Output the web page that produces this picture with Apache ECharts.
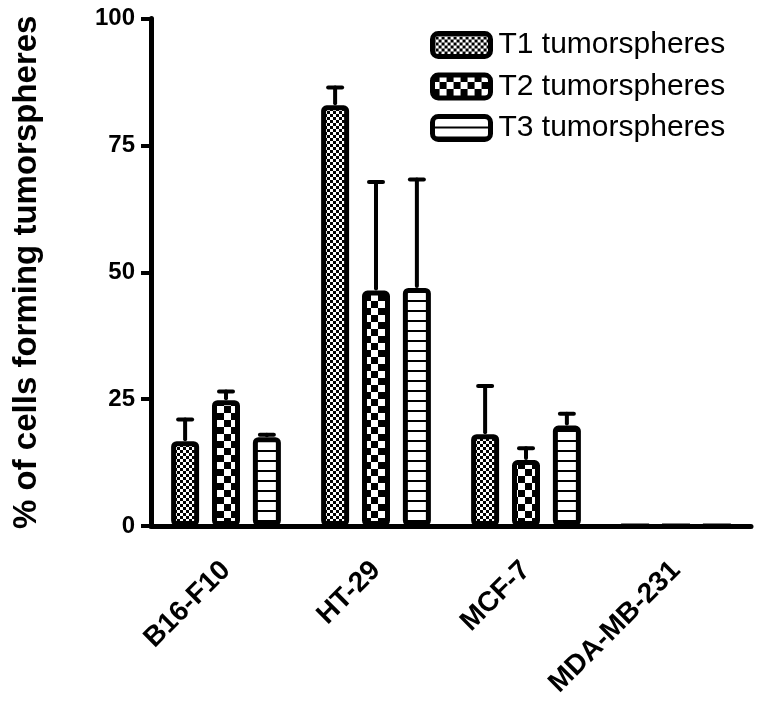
<!DOCTYPE html>
<html>
<head>
<meta charset="utf-8">
<script src="https://cdn.jsdelivr.net/npm/echarts@6/dist/echarts.min.js"></script>
<style>html,body{margin:0;padding:0;background:#fff}#c{width:760px;height:706px}</style>
</head>
<body>
<div id="c"></div>
<script>
// ---- data ----
var categories = ['B16-F10', 'HT-29', 'MCF-7', 'MDA-MB-231'];
var seriesNames = ['T1 tumorspheres', 'T2 tumorspheres', 'T3 tumorspheres'];
var t1Values = [16.7, 82.9, 18.1, 0];
var t2Values = [24.8, 46.4, 13.0, 0];
var t3Values = [17.5, 46.9, 19.8, 0];
var t1ErrTop = [21.0, 86.4, 27.6, 0];
var t2ErrTop = [26.5, 67.8, 15.3, 0];
var t3ErrTop = [18.0, 68.3, 22.1, 0];
var yTicks = [0, 25, 50, 75, 100];

var FONT = 'Liberation Sans';
var BAR_W = 28, BAR_GAP = 0.46;

function makePattern(kind) {
  var c = document.createElement('canvas');
  var ctx;
  if (kind === 'fine') {
    c.width = 6; c.height = 6; ctx = c.getContext('2d');
    ctx.fillStyle = '#fff'; ctx.fillRect(0, 0, 6, 6);
    ctx.fillStyle = '#000'; ctx.fillRect(0, 0, 3, 3); ctx.fillRect(3, 3, 3, 3);
  } else if (kind === 'coarse') {
    c.width = 14; c.height = 14; ctx = c.getContext('2d');
    ctx.fillStyle = '#fff'; ctx.fillRect(0, 0, 14, 14);
    ctx.fillStyle = '#000'; ctx.fillRect(0, 0, 7, 7); ctx.fillRect(7, 7, 7, 7);
  } else {
    c.width = 10; c.height = 10; ctx = c.getContext('2d');
    ctx.fillStyle = '#fff'; ctx.fillRect(0, 0, 10, 10);
    ctx.fillStyle = '#000'; ctx.fillRect(0, 0, 10, 2);
  }
  return { image: c, repeat: 'repeat' };
}
var patterns = [makePattern('fine'), makePattern('coarse'), makePattern('lines')];
var valueSets = [t1Values, t2Values, t3Values];
var errSets = [t1ErrTop, t2ErrTop, t3ErrTop];

var series = [];
for (var s = 0; s < 3; s++) {
  series.push({
    name: seriesNames[s],
    type: 'bar',
    barWidth: BAR_W,
    barGap: (BAR_GAP * 100) + '%',
    data: valueSets[s],
    itemStyle: { color: patterns[s], borderColor: '#000', borderWidth: 5, borderRadius: 3 },
    emphasis: { disabled: true },
    z: 3
  });
}
for (var s2 = 0; s2 < 3; s2++) {
  (function (si) {
    var d = [];
    for (var i = 0; i < categories.length; i++) d.push([i, valueSets[si][i], errSets[si][i]]);
    series.push({
      type: 'custom',
      data: d,
      encode: { x: 0, y: [1, 2] },
      z: 4,
      silent: true,
      renderItem: function (params, api) {
        var v = api.value(1), e = api.value(2);
        if (!(e > v)) return;
        var p = api.coord([api.value(0), v]);
        var t = api.coord([api.value(0), e]);
        var off = (si - 1) * (BAR_W * (1 + BAR_GAP));
        var x = p[0] + off;
        var st = { stroke: '#000', lineWidth: 4, lineCap: 'round' };
        return {
          type: 'group',
          children: [
            { type: 'line', shape: { x1: x, y1: p[1] - 2, x2: x, y2: t[1] }, style: st },
            { type: 'line', shape: { x1: x - 7, y1: t[1], x2: x + 7, y2: t[1] }, style: st }
          ]
        };
      }
    });
  })(s2);
}

var chart = echarts.init(document.getElementById('c'), null, { renderer: 'canvas' });
chart.setOption({
  animation: false,
  backgroundColor: '#fff',
  textStyle: { fontFamily: FONT },
  grid: { left: 151, right: 9, top: 18.5, bottom: 180, containLabel: false },
  legend: {
    orient: 'vertical',
    left: 430, top: 30,
    padding: 0,
    itemWidth: 58, itemHeight: 23, itemGap: 11.5,
    icon: 'roundRect',
    itemStyle: { borderColor: '#000', borderWidth: 5 },
    textStyle: { fontFamily: FONT, fontSize: 30, color: '#000', lineHeight: 30, padding: [0, 0, 0, 3] },
    data: seriesNames,
    selectedMode: false
  },
  xAxis: {
    type: 'category',
    data: categories,
    axisLine: { lineStyle: { color: '#000', width: 5, cap: 'round' } },
    axisTick: { alignWithLabel: true, length: 10, lineStyle: { color: '#000', width: 4 } },
    axisLabel: { rotate: 45, margin: 40, fontFamily: FONT, fontSize: 28, fontWeight: 'bold', color: '#000', interval: 0 },
    splitLine: { show: false }
  },
  yAxis: {
    type: 'value',
    min: 0, max: 100, interval: 25,
    name: '% of cells forming tumorspheres',
    nameLocation: 'middle',
    nameGap: 108,
    nameTextStyle: { fontFamily: FONT, fontSize: 33, fontWeight: 'bold', color: '#000' },
    axisLine: { show: true, lineStyle: { color: '#000', width: 5, cap: 'round' } },
    axisTick: { show: true, length: 10, lineStyle: { color: '#000', width: 4 } },
    axisLabel: {
      margin: 16, fontFamily: FONT, fontSize: 24, fontWeight: 'bold', color: '#000',
      formatter: function (v) { return yTicks.indexOf(v) >= 0 ? String(v) : ''; }
    },
    splitLine: { show: false }
  },
  series: series
});
</script>
</body>
</html>
